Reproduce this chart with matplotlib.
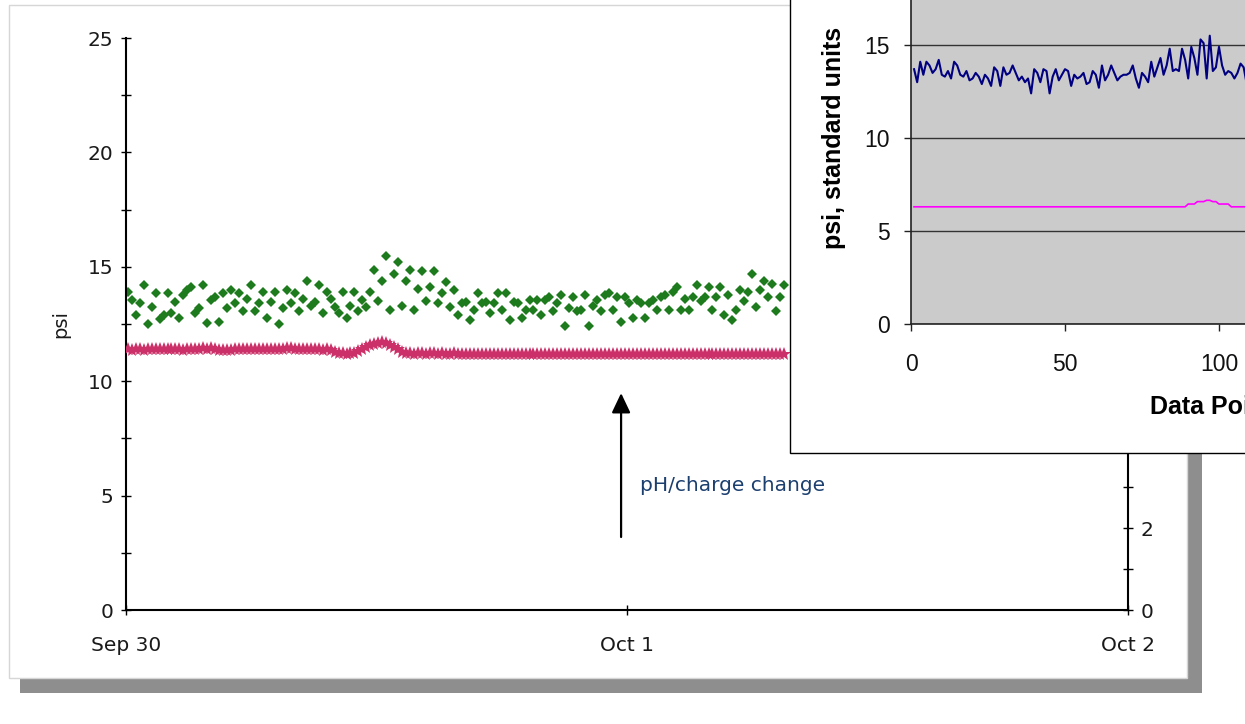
import matplotlib
matplotlib.use("Agg")
import matplotlib.pyplot as plt
from matplotlib.patches import Rectangle
from matplotlib.ticker import MultipleLocator
import numpy as np
import pandas as pd

plt.rcParams['font.family'] = ['DejaVu Sans']

# ---------------- data ----------------
sample_start = '2004-09-30 00:05'
sample_step = '686s'

psi = [13.9, 13.55, 12.9, 13.4, 14.2, 12.5, 13.25, 13.85, 12.7, 12.9,
       13.85, 13.0, 13.45, 12.75, 13.75, 14.0, 14.1, 13.0, 13.2, 14.2,
       12.55, 13.55, 13.7, 12.6, 13.85, 13.2, 14.0, 13.4, 13.85, 13.05,
       13.6, 14.2, 13.05, 13.4, 13.9, 12.75, 13.45, 13.9, 12.5, 13.2,
       14.0, 13.4, 13.85, 13.05, 13.6, 14.4, 13.3, 13.45, 14.2, 13.0,
       13.9, 13.6, 13.25, 13.0, 13.9, 12.75, 13.3, 13.9, 13.05, 13.55,
       13.25, 13.9, 14.86, 13.5, 14.4, 15.47, 13.1, 14.7, 15.22, 13.3,
       14.4, 14.86, 13.1, 14.05, 14.8, 13.5, 14.1, 14.8, 13.4, 13.85,
       14.35, 13.25, 14.0, 12.9, 13.4,
       13.45, 12.67, 13.1, 13.87, 13.4, 13.45, 13.0, 13.4, 13.87, 13.1,
       13.87, 12.67, 13.45, 13.4, 12.75, 13.1, 13.55, 13.1, 13.55, 12.9,
       13.55, 13.7, 13.05, 13.4, 13.77, 12.41, 13.2, 13.7, 13.05, 13.1,
       13.77, 12.41, 13.3, 13.55, 13.05, 13.77, 13.85, 13.1, 13.7, 12.6,
       13.7, 13.4, 12.75, 13.55, 13.4, 12.75, 13.4, 13.55, 13.1, 13.7,
       13.77, 13.1, 13.9, 14.1, 13.1, 13.6, 13.1, 13.7, 14.2, 13.5,
       13.7, 14.1, 13.1, 13.7, 14.1, 12.9, 13.77, 12.67, 13.1, 14.0,
       13.5, 13.9, 14.7, 13.25, 14.0, 14.4, 13.7, 14.25, 13.05, 13.7,
       14.2]

ph = [6.38, 6.37, 6.39, 6.38, 6.37, 6.39, 6.38, 6.39, 6.38, 6.39, 6.40, 6.39, 6.38, 6.38,
      6.37, 6.38, 6.39, 6.38, 6.40, 6.41, 6.40, 6.41, 6.39, 6.37, 6.36, 6.36, 6.37, 6.38,
      6.39, 6.38, 6.39, 6.40, 6.39, 6.38, 6.39, 6.40, 6.39, 6.38, 6.39, 6.40, 6.41, 6.41,
      6.40, 6.39, 6.40, 6.38,
      6.38, 6.39, 6.38, 6.37, 6.38, 6.36, 6.31, 6.28, 6.28, 6.27, 6.28, 6.30,
      6.34, 6.39, 6.44, 6.48, 6.52, 6.54, 6.55, 6.53, 6.49, 6.44, 6.38, 6.32, 6.29,
      6.28, 6.27, 6.28, 6.28, 6.27, 6.28, 6.28, 6.27, 6.28, 6.27, 6.27, 6.28, 6.27, 6.27,
      6.26, 6.26, 6.26, 6.26, 6.26, 6.26, 6.26, 6.26, 6.26, 6.26,
      6.26, 6.26, 6.26, 6.26, 6.26, 6.26, 6.26, 6.26, 6.26, 6.26,
      6.26, 6.26, 6.26, 6.26, 6.26, 6.26, 6.26, 6.26, 6.26, 6.26,
      6.26, 6.26, 6.26, 6.26, 6.26, 6.26, 6.26, 6.26, 6.26, 6.26,
      6.26, 6.26, 6.26, 6.26, 6.26, 6.26, 6.26, 6.26, 6.26, 6.26,
      6.26, 6.26, 6.26, 6.26, 6.26, 6.26, 6.26, 6.26, 6.26, 6.26,
      6.26, 6.26, 6.26, 6.26, 6.26, 6.26, 6.26, 6.26, 6.26, 6.26,
      6.26, 6.26, 6.26, 6.26, 6.26, 6.26, 6.26, 6.26, 6.26, 6.26,
      6.26]

x_tick_dates = ['2004-09-30', '2004-10-01', '2004-10-02']
x_tick_labels = ['Sep 30', 'Oct 1', 'Oct 2']

annotation_text = 'pH/charge change'
arrow_time = '2004-09-30 23:43'
arrow_psi_tail = 3.19
arrow_psi_head = 9.48
text_time = '2004-10-01 00:37'
text_psi = 5.46

# inset: data point series
inset_psi = [13.7, 13.0, 14.1, 13.4, 14.1, 13.9, 13.5, 13.7, 14.2, 13.4,
             13.3, 13.6, 13.2, 14.1, 13.9, 13.4, 13.3, 13.6, 13.1, 13.2,
             13.5, 13.3, 12.9, 13.4, 13.2, 12.8, 13.8, 13.6, 12.8, 13.8,
             13.4, 13.5, 13.9, 13.5, 13.1, 13.3, 13.0, 13.2, 12.4, 13.7,
             13.5, 13.0, 13.7, 13.6, 12.4, 13.3, 13.7, 13.1, 13.4, 13.7,
             13.6, 12.8, 13.4, 13.2, 13.3, 13.5, 12.9, 13.0, 13.6, 13.4,
             12.7, 13.9, 13.1, 13.4, 13.9, 13.5, 13.1, 13.3, 13.4, 13.4,
             13.5, 13.9, 13.2, 12.7, 13.5, 13.3, 13.0, 14.1, 13.3, 13.8,
             14.3, 13.4, 13.9, 14.8, 13.6, 13.7, 13.6, 14.8, 14.2, 13.2,
             14.9, 14.3, 13.4, 15.3, 15.1, 13.2, 15.5, 13.6, 13.8, 14.9,
             13.9, 13.4, 13.6, 13.5, 13.2, 13.5, 14.0, 13.8, 12.9, 13.4]

inset_ph = [6.30, 6.30, 6.30, 6.30, 6.30, 6.30, 6.30, 6.30, 6.30, 6.30,
            6.30, 6.30, 6.30, 6.30, 6.30, 6.30, 6.30, 6.30, 6.30, 6.30,
            6.30, 6.30, 6.30, 6.30, 6.30, 6.30, 6.30, 6.30, 6.30, 6.30,
            6.30, 6.30, 6.30, 6.30, 6.30, 6.30, 6.30, 6.30, 6.30, 6.30,
            6.30, 6.30, 6.30, 6.30, 6.30, 6.30, 6.30, 6.30, 6.30, 6.30,
            6.30, 6.30, 6.30, 6.30, 6.30, 6.30, 6.30, 6.30, 6.30, 6.30,
            6.30, 6.30, 6.30, 6.30, 6.30, 6.30, 6.30, 6.30, 6.30, 6.30,
            6.30, 6.30, 6.30, 6.30, 6.30, 6.30, 6.30, 6.30, 6.30, 6.30,
            6.30, 6.30, 6.30, 6.30, 6.30, 6.30, 6.30, 6.30, 6.30,
            6.45, 6.45, 6.45, 6.58, 6.58, 6.58, 6.65, 6.65, 6.58, 6.58,
            6.45, 6.45, 6.45, 6.45, 6.30, 6.30, 6.30, 6.30, 6.30, 6.30, 6.30]

inset_x_ticks = [0, 50, 100, 150, 200]
inset_y_ticks = [0, 5, 10, 15, 20]

# ---------------- figure ----------------
W, H = 1245, 724
fig = plt.figure(figsize=(W / 100, H / 100), dpi=100)


def fx(px):
    return px / W


def fy(py):
    return 1 - py / H


# shadow + white chart panel
fig.add_artist(Rectangle((fx(20), fy(693)), fx(1202) - fx(20), fy(15) - fy(693),
                         transform=fig.transFigure, facecolor='#8e8e8e',
                         edgecolor='none', zorder=-3))
fig.add_artist(Rectangle((fx(9), fy(678)), fx(1187) - fx(9), fy(5) - fy(678),
                         transform=fig.transFigure, facecolor='white',
                         edgecolor='#d6d6d6', lw=1.0, zorder=-2))

times = pd.date_range(sample_start, periods=len(psi), freq=sample_step)
tick_dates = pd.to_datetime(x_tick_dates)

ax = fig.add_axes([fx(126), fy(610), fx(1128) - fx(126), fy(38) - fy(610)])
ax.set_zorder(0)
ax.patch.set_visible(False)
ax.plot(times, psi, linestyle='none', marker='D', ms=5.6, mew=0,
        color='#1d7a1d')
ax.set_xlim(tick_dates[0], tick_dates[-1])
ax.set_ylim(0, 25)
ax.set_xticks(tick_dates)
ax.set_xticklabels(x_tick_labels)
ax.yaxis.set_major_locator(MultipleLocator(5))
ax.yaxis.set_minor_locator(MultipleLocator(2.5))
for s in ['top', 'right']:
    ax.spines[s].set_visible(False)
for s in ['left', 'bottom']:
    ax.spines[s].set_linewidth(1.5)
ax.tick_params(which='both', direction='inout', length=6.5, width=1.0,
               color='black', labelsize=14.5, labelcolor='#1a1a1a')
ax.tick_params(axis='x', pad=15.5)
ax.tick_params(axis='y', which='both', pad=6)
ax.set_ylabel('psi', fontsize=14, color='#1a1a1a')
ax.yaxis.set_label_coords(-0.056, 0.5)

ax2 = ax.twinx()
ax2.set_zorder(0.5)
ax2.plot(times, ph, linestyle='none', marker='*', ms=10.5, mew=0,
         color='#cc3068')
ax2.set_ylim(0, 14)
ax2.yaxis.set_major_locator(MultipleLocator(2))
ax2.yaxis.set_minor_locator(MultipleLocator(1))
for s in ['top', 'left', 'bottom']:
    ax2.spines[s].set_visible(False)
ax2.spines['right'].set_linewidth(1.5)
ax2.tick_params(which='both', direction='inout', length=6.5, width=1.0,
                color='black', labelsize=14.5, labelcolor='#1a1a1a', pad=5.5)

ax.annotate('', xy=(pd.Timestamp(arrow_time), arrow_psi_head),
            xytext=(pd.Timestamp(arrow_time), arrow_psi_tail),
            arrowprops=dict(arrowstyle='-|>,head_length=0.8,head_width=0.38',
                            mutation_scale=15, lw=1.6, color='black',
                            shrinkA=0, shrinkB=0))
ax.text(pd.Timestamp(text_time), text_psi, annotation_text, fontsize=14.5,
        color='#1b3f6e', ha='left', va='center')

# inset frame
fig.add_artist(Rectangle((fx(790), fy(453)), 1, 1, transform=fig.transFigure,
                         facecolor='white', edgecolor='black', lw=1.0, zorder=1))

axin = fig.add_axes([fx(911), fy(324), 616 / W, 372 / H])
axin.set_zorder(2)
axin.set_facecolor('#cbcbcb')
inset_idx = np.arange(1, len(inset_psi) + 1)
axin.plot(inset_idx, inset_psi, color='#000080', lw=1.5)
axin.plot(inset_idx, inset_ph, color='#ff00ff', lw=1.2)
axin.set_xlim(inset_x_ticks[0], inset_x_ticks[-1])
axin.set_ylim(inset_y_ticks[0], inset_y_ticks[-1])
axin.set_xticks(inset_x_ticks)
axin.set_yticks(inset_y_ticks)
axin.yaxis.grid(True, color='#333333', lw=1.0)
axin.set_axisbelow(True)
for s in axin.spines.values():
    s.set_color('#222222')
    s.set_linewidth(1.2)
inset_font = ['Liberation Sans', 'DejaVu Sans']
axin.tick_params(direction='out', length=5, width=1.0, color='#222222',
                 labelsize=16.5, labelcolor='#111111')
axin.tick_params(axis='y', pad=10)
axin.tick_params(axis='x', pad=16)
for lab in axin.get_xticklabels() + axin.get_yticklabels():
    lab.set_family(inset_font)
axin.set_ylabel('psi, standard units', fontsize=18, fontweight='bold',
                family=inset_font)
axin.yaxis.set_label_coords(-0.1055, 0.5)
axin.set_xlabel('Data Points', fontsize=18, fontweight='bold', family=inset_font)
axin.xaxis.set_label_coords(0.5, -0.19)

fig.savefig('out.png', dpi=100)
